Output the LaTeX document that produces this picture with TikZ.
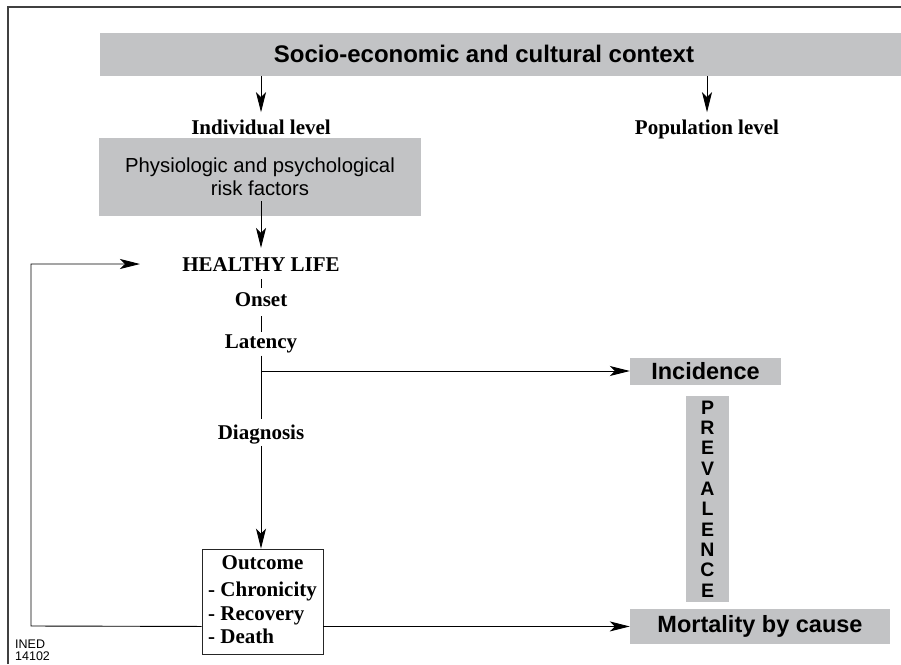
\documentclass[tikz,border=0pt]{standalone}
\usepackage{fontspec}
\setmainfont{Liberation Serif}
\setsansfont{Liberation Sans}
\usetikzlibrary{arrows.meta,calc}
\definecolor{boxgray}{RGB}{194,195,197}
\begin{document}
\begin{tikzpicture}[x=1pt,y=-1pt,
  arr/.style={-{Stealth[length=20pt,width=10pt,inset=5pt]}, line width=0.9pt},
  ln/.style={line width=0.9pt},
  gbox/.style={fill=boxgray, draw=none, inner sep=0pt},
  serif/.style={font=\fontsize{21}{24}\selectfont\bfseries, inner sep=0pt, anchor=base},
  outtxt/.style={font=\fontsize{21}{24}\selectfont\bfseries, inner sep=0pt, anchor=base west},
  sansbig/.style={font=\sffamily\bfseries\fontsize{23.5}{26}\selectfont},
  frame/.style={line width=1.2pt, draw=black!75}]
\useasboundingbox (0,0) rectangle (901,664);
% frame
\coordinate (fTL) at (8,7);
\coordinate (fTR) at (901,7);
\coordinate (fBL) at (8,664);
\draw[frame] (fBL) -- (fTL) -- (fTR);
% top context box
\node[gbox, minimum width=801pt, minimum height=43pt] (ctx) at (500.5,54.5) {};
\node[font=\sffamily\bfseries\fontsize{24}{28}\selectfont, inner sep=0pt, anchor=base] (ctxt) at (484,62.6) {Socio-economic and cultural context};
% levels
\node[serif] (ind) at (261,134) {Individual level};
\node[serif] (pop) at (707,134) {Population level};
\draw[arr, shorten >=7pt] (ctx.south -| ind) -- (ind);
\draw[arr, shorten >=7pt] (ctx.south -| pop) -- (pop);
% physiologic box
\node[gbox, minimum width=322pt, minimum height=78pt, align=center,
      font=\sffamily\fontsize{20.3}{23}\selectfont] (phys) at (260,177)
      {Physiologic and psychological\\risk factors};
% chain
\node[serif] (hl) at (261,271) {HEALTHY LIFE};
\node[serif] (onset) at (261,306) {Onset};
\node[serif] (lat) at (261,348) {Latency};
\node[serif] (diag) at (261,439) {Diagnosis};
\coordinate (pstart) at (261,201);
\draw[arr, shorten >=9pt] (pstart) -- (hl);
\draw[ln, shorten <=8pt, shorten >=4pt] (hl) -- (onset);
\draw[ln, shorten <=10pt, shorten >=2pt] (onset) -- (lat);
\draw[ln, shorten <=3pt, shorten >=5pt] (lat) -- (diag);
% outcome box
\node[draw=black!85, line width=0.9pt, minimum width=121pt, minimum height=105pt, inner sep=0pt] (out) at (262.5,601.5) {};
\node[serif] (outT) at (262.5,569) {Outcome};
\node[outtxt] (o1) at (208,596) {- Chronicity};
\node[outtxt] (o2) at (208,620) {- Recovery};
\node[outtxt] (o3) at (208,643.3) {- Death};
\draw[arr, shorten <=2pt] (diag.south) -- (diag |- out.north);
% right side boxes
\node[gbox, sansbig, minimum width=151pt, minimum height=27pt] (inc) at (705.5,371.5) {Incidence};
\node[gbox, minimum width=43pt, minimum height=206pt, align=center,
      font=\sffamily\bfseries\fontsize{19.5}{20.3}\selectfont] (prev) at (707.5,499)
      {P\\R\\E\\V\\A\\L\\E\\N\\C\\E};
\node[gbox, sansbig, minimum width=260pt, minimum height=35pt] (mort) at (760,626.5) {Mortality by cause};
% branch to incidence
\coordinate (br) at (261,371);
\draw[arr] (br) -- (inc.west |- br);
% outcome to mortality
\coordinate (oR) at ($(out.south east)+(0,-28)$);
\draw[arr] (oR) -- (mort.west |- oR);
% loop back to healthy life
\coordinate (oL) at ($(out.south west)+(0,-28)$);
\coordinate (loopB) at (31,626);
\coordinate (loopT) at (31,264);
\coordinate (loopE) at (140,264);
\draw[arr] (oL) -- (loopB) -- (loopT) -- (loopE);
% INED
\node[font=\sffamily\fontsize{12.5}{13}\selectfont, inner sep=0pt, anchor=base west] (ined) at (15,648) {INED};
\node[font=\sffamily\fontsize{12.5}{13}\selectfont, inner sep=0pt, anchor=base west] (num) at (15,660.5) {14102};
\end{tikzpicture}
\end{document}
